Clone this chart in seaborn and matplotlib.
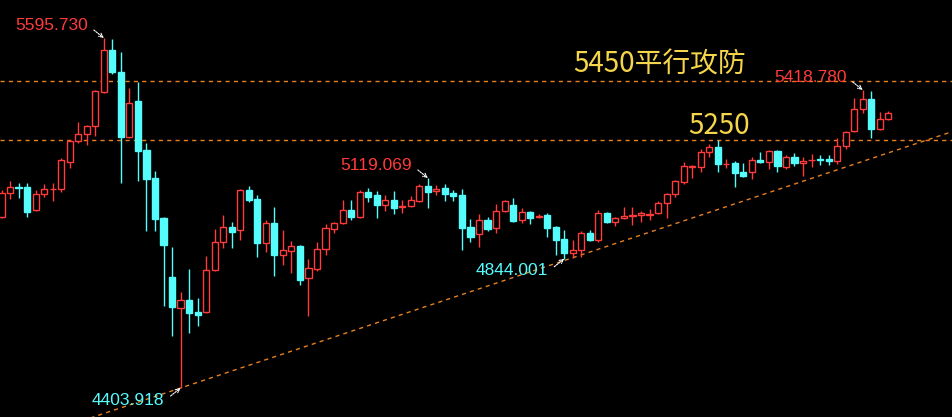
import numpy as np
import pandas as pd
import matplotlib
matplotlib.use("Agg")
import matplotlib.pyplot as plt
import seaborn as sns

# daily candles (open, high, low, close)
opens = [4986, 5068, 5088, 5088, 5010, 5064, 5080, 5081, 5173, 5245,
         5269, 5296, 5412, 5555, 5480, 5259, 5381, 5214, 5119, 4983,
         4782, 4676, 4704, 4663, 4663, 4806, 4901, 4952, 4942, 5078,
         5047, 4898, 4966, 4857, 4870, 4887, 4778, 4809, 4877, 4945,
         4966, 5010, 4986, 5071, 5061, 5027, 5044, 5020, 5024, 5041,
         5092, 5075, 5085, 5068, 5061, 4952, 4928, 4976, 4949, 5007,
         5027, 4976, 5003, 4986, 4993, 4952, 4911, 4864, 4874, 4932,
         4908, 5000, 4969, 4983, 4991, 4993, 4993, 5000, 5034, 5064,
         5105, 5158, 5156, 5208, 5225, 5165, 5170, 5139, 5139, 5180,
         5173, 5211, 5156, 5190, 5170, 5179, 5184, 5184, 5177, 5228,
         5279, 5354, 5388, 5286, 5320]
highs = [5078, 5109, 5102, 5102, 5078, 5099, 5102, 5187, 5248, 5310,
         5300, 5419, 5595.730, 5592, 5548, 5425, 5446, 5238, 5143, 4985,
         4884, 4731, 4809, 4710, 4853, 4945, 4993, 4969, 5080, 5092,
         5061, 4976, 5020, 4942, 4905, 4890, 4843, 4901, 4962, 4969,
         5044, 5044, 5078, 5085, 5075, 5061, 5075, 5044, 5058, 5099,
         5119.069, 5095, 5099, 5078, 5082, 4979, 4996, 4986, 5031, 5044,
         5051, 5017, 5007, 4996, 5000, 4955, 4942, 4908, 4939, 4942,
         5010, 5003, 4985, 5020, 5020, 5007, 5013, 5041, 5068, 5111,
         5174, 5163, 5218, 5235, 5248, 5184, 5177, 5170, 5191, 5208,
         5213, 5214, 5197, 5204, 5191, 5201, 5197, 5197, 5255, 5279,
         5391, 5418.780, 5415, 5344, 5347]
lows = [4984, 5048, 5051, 4986, 5007, 5054, 5041, 5071, 5153, 5238,
        5231, 5262, 5410, 5473, 5102, 5256, 5109, 4939, 4939, 4683,
        4581, 4403.918, 4591, 4615, 4660, 4803, 4881, 4881, 4908, 5037,
        4850, 4867, 4785, 4823, 4796, 4755, 4649, 4802, 4857, 4932,
        4963, 4976, 4984, 5037, 4983, 5007, 4996, 5000, 5021, 5038,
        5017, 5061, 5041, 5041, 4874, 4901, 4884, 4939, 4932, 5004,
        4970, 4966, 4962, 4984, 4918, 4857, 4844.001, 4846, 4850, 4905,
        4901, 4967, 4956, 4980, 4959, 4969, 4976, 4997, 4983, 5054,
        5099, 5119, 5139, 5191, 5139, 5153, 5088, 5123, 5116, 5171,
        5150, 5139, 5150, 5160, 5126, 5157, 5163, 5163, 5167, 5218,
        5276, 5340, 5255, 5283, 5318]
closes = [5068, 5088, 5085, 5003, 5064, 5082, 5082, 5180, 5245, 5269,
          5296, 5415, 5555, 5480, 5259, 5374, 5211, 5116, 4979, 4891,
          4680, 4704, 4659, 4653, 4806, 4901, 4952, 4935, 5078, 5044,
          4898, 4966, 4857, 4874, 4887, 4772, 4812, 4877, 4949, 4966,
          5010, 4986, 5071, 5054, 5027, 5044, 5017, 5024, 5044, 5092,
          5071, 5082, 5064, 5058, 4949, 4918, 4976, 4945, 5007, 5041,
          4973, 5003, 4983, 4990, 4949, 4908, 4864, 4874, 4932, 4908,
          5000, 4969, 4983, 4990, 4993, 5000, 4996, 5034, 5064, 5109,
          5160, 5160, 5208, 5225, 5167, 5167, 5136, 5126, 5180, 5173,
          5211, 5160, 5190, 5170, 5177, 5180, 5180, 5177, 5228, 5276,
          5354, 5388, 5286, 5320, 5340]

# marked extremes: candle index, price label, colour
marks_idx = [12, 50, 101, 21, 66]
marks_text = ["5595.730", "5119.069", "5418.780", "4403.918", "4844.001"]
marks_up = [True, True, True, False, False]

# support line through the two lows, and the two horizontal levels
trend_idx = [21, 66]
trend_val = [4403.918, 4838.0]
levels = [5450, 5250]
level_text = ["5450平行攻防", "5250"]

UP = "#ff3b3b"
DOWN = "#54fcfc"
LINE = "#e8801e"
GOLD = "#f5d54a"

df = pd.DataFrame({"open": opens, "high": highs, "low": lows, "close": closes})
df["i"] = np.arange(len(df))
df["up"] = df["close"] >= df["open"]

sns.set_theme(style="dark", rc={"axes.facecolor": "black", "figure.facecolor": "black"})
plt.rcParams["font.family"] = ["Liberation Sans", "DejaVu Sans"]

fig = plt.figure(figsize=(9.53, 4.17), dpi=100)
ax = fig.add_axes([0, 0, 1, 1])
ax.set_facecolor("black")

# levels
for lv in levels:
    ax.axhline(lv, color=LINE, lw=1.0, linestyle=(0, (3, 3)), zorder=1)

# trend line extended over the whole chart
slope = (trend_val[1] - trend_val[0]) / (trend_idx[1] - trend_idx[0])
tx = np.array([-2, len(df) + 10])
ty = trend_val[0] + slope * (tx - trend_idx[0])
sns.lineplot(x=tx, y=ty, ax=ax, color=LINE, linewidth=1.0, linestyle=(0, (3, 3)), zorder=1)

# candles
colors = np.where(df["up"], UP, DOWN)
ax.vlines(df["i"], df["low"], df["high"], colors=colors, lw=1.0, zorder=2)
body_lo = df[["open", "close"]].min(axis=1)
body_h = (df["close"] - df["open"]).abs().clip(lower=0.5)
up = df[df["up"]]
dn = df[~df["up"]]
ax.bar(up["i"], body_h[df["up"]], bottom=body_lo[df["up"]], width=0.72,
       facecolor="black", edgecolor=UP, linewidth=1.0, zorder=3)
ax.bar(dn["i"], body_h[~df["up"]], bottom=body_lo[~df["up"]], width=0.72,
       facecolor=DOWN, edgecolor=DOWN, linewidth=1.0, zorder=3)

# extreme labels with small white arrows
for k, txt, is_up in zip(marks_idx, marks_text, marks_up):
    price = float(txt)
    sgn = 1 if is_up else -1
    ax.annotate("", xy=(k, price), xytext=(-10, 8 * sgn), textcoords="offset pixels",
                arrowprops=dict(arrowstyle="->", color="white", lw=0.8,
                                linestyle=(0, (1.5, 1)), mutation_scale=7,
                                shrinkA=0, shrinkB=0), zorder=5)
    ax.annotate(txt, xy=(k, price), xytext=(-16, 12 * sgn), textcoords="offset pixels",
                ha="right", va="center", fontsize=12.5,
                color=UP if is_up else DOWN, zorder=5)

# level captions
ax.text(67.0, levels[0] + 27, level_text[0], color=GOLD, fontsize=20,
        family=["Noto Sans CJK SC", "DejaVu Sans"], ha="left", va="baseline")
ax.text(80.5, levels[1] + 19, level_text[1], color=GOLD, fontsize=20,
        family=["Noto Sans CJK SC", "DejaVu Sans"], ha="left", va="baseline")

ax.set_xlim(-0.176, 111.59)
ax.set_ylim(4305.2, 5725.1)
ax.set_axis_off()

fig.savefig("out.png", dpi=100, facecolor="black")
